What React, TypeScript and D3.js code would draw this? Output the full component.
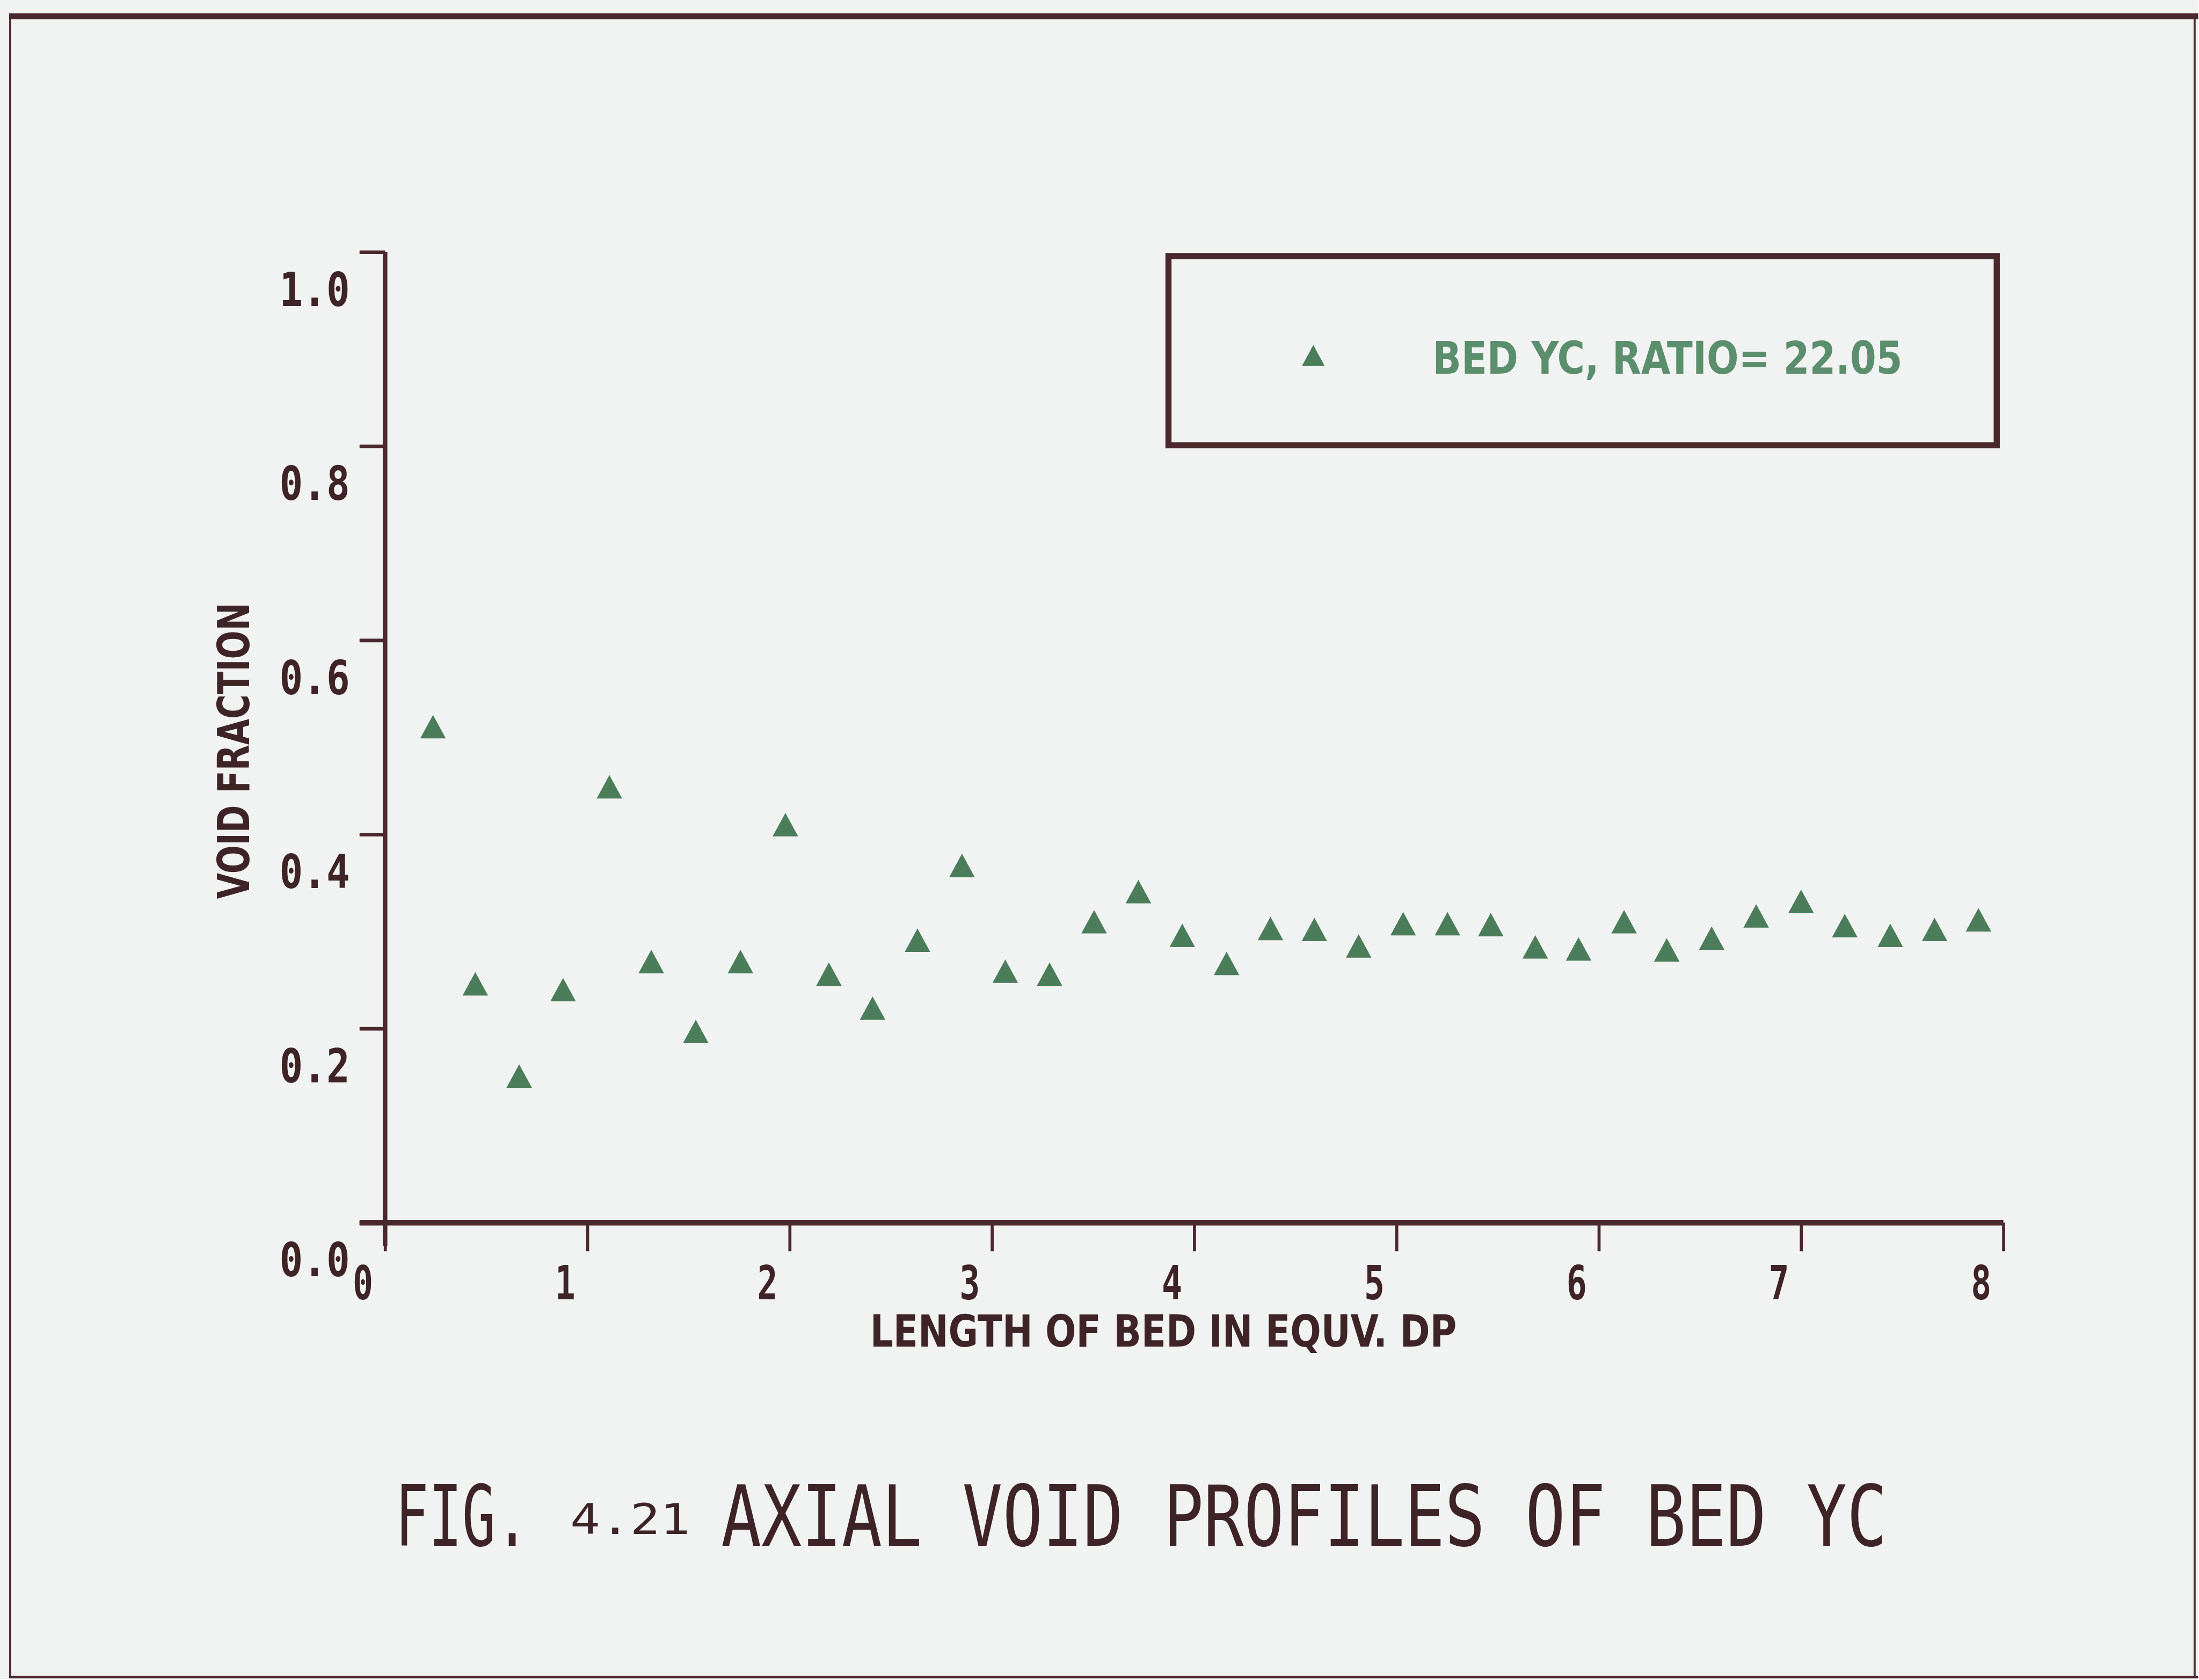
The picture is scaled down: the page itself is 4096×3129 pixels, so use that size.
import React, { useEffect, useRef } from 'react';
import * as d3 from 'd3';

// ---- data ----
const lengthDp = [
  0.237, 0.446, 0.663, 0.88, 1.109, 1.316, 1.536, 1.757, 1.979, 2.194, 2.41, 2.632,
  2.852, 3.066, 3.285, 3.505, 3.724, 3.941, 4.16, 4.377, 4.594, 4.813, 5.033, 5.252,
  5.466, 5.686, 5.9, 6.125, 6.336, 6.558, 6.778, 7.0, 7.216, 7.441, 7.66, 7.877,
];
const voidFraction = [
  0.511, 0.246, 0.151, 0.24, 0.449, 0.269, 0.197, 0.269, 0.41, 0.256, 0.221, 0.291,
  0.368, 0.259, 0.256, 0.31, 0.341, 0.296, 0.267, 0.303, 0.302, 0.285, 0.308, 0.308,
  0.307, 0.284, 0.282, 0.31, 0.281, 0.293, 0.316, 0.331, 0.306, 0.296, 0.302, 0.312,
];
const xTicks = [0, 1, 2, 3, 4, 5, 6, 7, 8];
const xTickLabels = ['0', '1', '2', '3', '4', '5', '6', '7', '8'];
const yTicks = [0, 0.2, 0.4, 0.6, 0.8, 1.0];
const yTickLabels = ['0.0', '0.2', '0.4', '0.6', '0.8', '1.0'];
const xTitle = 'LENGTH OF BED IN EQUV. DP';
const yTitle = 'VOID FRACTION';
const legendLabel = 'BED YC, RATIO= 22.05';
const figPrefix = 'FIG.';
const figNumber = '4.21';
const figTitle = 'AXIAL VOID PROFILES OF BED YC';

const BG = '#f1f2f2';
const INK = '#4a282d';
const TEXT = '#3e2327';
const GREEN = '#4c7d5b';
const GREEN_TEXT = '#5b8e6c';

// triangle whose bounding box is centred on the point
const boxTriangle = {
  draw(ctx: any, size: number) {
    const w = Math.sqrt(size);
    const h = w * 0.92;
    ctx.moveTo(0, -h / 2);
    ctx.lineTo(w / 2, h / 2);
    ctx.lineTo(-w / 2, h / 2);
    ctx.closePath();
  },
};

// squeeze a text horizontally to a target width, placed at (tx, ty)
function fitText(sel: any, tx: number, ty: number, width: number, rotate = 0) {
  sel.each(function (this: SVGTextElement) {
    const node = this;
    d3.select(node).attr('x', 0).attr('y', 0).attr('dy', null);
    const w = node.getComputedTextLength();
    const s = w > 0 ? width / w : 1;
    d3.select(node).attr(
      'transform',
      `translate(${tx},${ty})${rotate ? ` rotate(${rotate})` : ''} scale(${s},1)`
    );
  });
}

function draw(el: SVGSVGElement) {
  const svg = d3.select(el);
  svg.selectAll('*').remove();
  const root = svg.append('g').attr('transform', 'scale(0.95)');

  const W = 4310;
  const H = 3292;
  root.append('rect').attr('width', W).attr('height', H).attr('fill', BG);

  // outer frame
  const frame = root.append('g').attr('stroke', INK).attr('fill', 'none');
  frame.append('line').attr('x1', 18).attr('x2', W).attr('y1', 32).attr('y2', 32).attr('stroke-width', 12);
  frame.append('line').attr('x1', 20).attr('x2', 20).attr('y1', 28).attr('y2', 3290).attr('stroke-width', 4);
  frame.append('line').attr('x1', 4303).attr('x2', 4303).attr('y1', 28).attr('y2', 3290).attr('stroke-width', 4);
  frame.append('line').attr('x1', 18).attr('x2', W).attr('y1', 3288).attr('y2', 3288).attr('stroke-width', 5);

  const x = d3.scaleLinear().domain([0, 8]).range([755, 3928]);
  const y = d3.scaleLinear().domain([0, 1]).range([2397, 494]);

  const tickFont = "'DejaVu Sans Mono', monospace";
  const titleFont = "'Liberation Sans Narrow', 'DejaVu Sans Condensed', 'DejaVu Sans', sans-serif";

  // x axis
  const xAxis = d3
    .axisBottom(x)
    .tickValues(xTicks)
    .tickSize(56)
    .tickSizeOuter(0)
    .tickFormat((_d: any, i: number) => xTickLabels[i]);
  const gx = root.append('g').attr('transform', `translate(0,${y(0)})`).call(xAxis as any);
  gx.select('.domain').remove();
  gx.attr('font-family', null).attr('font-size', null);
  gx.selectAll('.tick line').attr('stroke', INK).attr('stroke-width', 6);
  const xt = gx.selectAll('.tick text')
    .attr('fill', TEXT)
    .attr('font-family', tickFont)
    .attr('font-weight', 'bold')
    .attr('font-size', 92)
    .attr('text-anchor', 'middle');
  fitText(xt, -44, 150, 40);

  // y axis
  const yAxis = d3
    .axisLeft(y)
    .tickValues(yTicks)
    .tickSize(50)
    .tickSizeOuter(0)
    .tickFormat((_d: any, i: number) => yTickLabels[i]);
  const gy = root.append('g').attr('transform', `translate(${x(0)},0)`).call(yAxis as any);
  gy.select('.domain').remove();
  gy.attr('font-family', null).attr('font-size', null);
  gy.selectAll('.tick line').attr('stroke', INK).attr('stroke-width', 7);
  const yt = gy.selectAll('.tick text')
    .attr('fill', TEXT)
    .attr('font-family', tickFont)
    .attr('font-weight', 'bold')
    .attr('font-size', 92)
    .attr('text-anchor', 'end');
  fitText(yt, -69, 105, 138);

  // axis lines
  const [x0, x1] = x.range();
  const [yb, yTop] = y.range();
  root.append('line').attr('x1', x0 - 50).attr('x2', x1).attr('y1', yb).attr('y2', yb)
    .attr('stroke', INK).attr('stroke-width', 11);
  root.append('line').attr('x1', x0).attr('x2', x0).attr('y1', yTop).attr('y2', yb + 46)
    .attr('stroke', INK).attr('stroke-width', 9);

  // axis titles
  const xtTitle = root.append('text')
    .attr('text-anchor', 'middle')
    .attr('font-family', titleFont).attr('font-weight', 'bold').attr('font-size', 86)
    .attr('fill', TEXT)
    .text(xTitle);
  fitText(xtTitle, 2281, 2640, 1150);
  const ytTitle = root.append('text')
    .attr('text-anchor', 'middle')
    .attr('font-family', titleFont).attr('font-weight', 'bold').attr('font-size', 86)
    .attr('fill', TEXT)
    .text(yTitle);
  fitText(ytTitle, 488, 1472, 581, -90);

  // data markers
  const sym = d3.symbol().type(boxTriangle as any).size(2500);
  root.append('g')
    .selectAll('path')
    .data(lengthDp.map((v, i) => [v, voidFraction[i]]))
    .join('path')
    .attr('transform', (d: number[]) => `translate(${x(d[0])},${y(d[1])})`)
    .attr('d', sym() as string)
    .attr('fill', GREEN);

  // legend
  const lg = root.append('g').attr('transform', 'translate(2291,502)');
  lg.append('rect').attr('width', 1624).attr('height', 371)
    .attr('fill', 'none').attr('stroke', INK).attr('stroke-width', 12);
  lg.append('path').attr('transform', 'translate(284,195)')
    .attr('d', d3.symbol().type(boxTriangle as any).size(2000)() as string)
    .attr('fill', GREEN);
  const lgText = lg.append('text')
    .attr('font-family', titleFont).attr('font-weight', 'bold').attr('font-size', 89)
    .attr('fill', GREEN_TEXT)
    .text(legendLabel);
  fitText(lgText, 518, 231, 921);

  // figure caption
  const cap = root.append('g').attr('fill', TEXT).attr('font-family', tickFont);
  fitText(cap.append('text').attr('font-size', 165).text(figPrefix), 775, 3030, 262);
  fitText(cap.append('text').attr('font-size', 82).text(figNumber), 1118, 3007, 235);
  fitText(cap.append('text').attr('font-size', 165).text(figTitle), 1414, 3030, 2286);
}

export default function App() {
  const ref = useRef<SVGSVGElement>(null);

  useEffect(() => {
    if (!ref.current) return;
    draw(ref.current);
    const fonts = (document as any).fonts;
    if (fonts && fonts.ready) {
      fonts.ready.then(() => {
        if (ref.current) draw(ref.current);
      });
    }
  }, []);

  return (
    <svg
      ref={ref}
      width={4096}
      height={3129}
      style={{ position: 'absolute', left: 0, top: 0, display: 'block' }}
    />
  );
}
